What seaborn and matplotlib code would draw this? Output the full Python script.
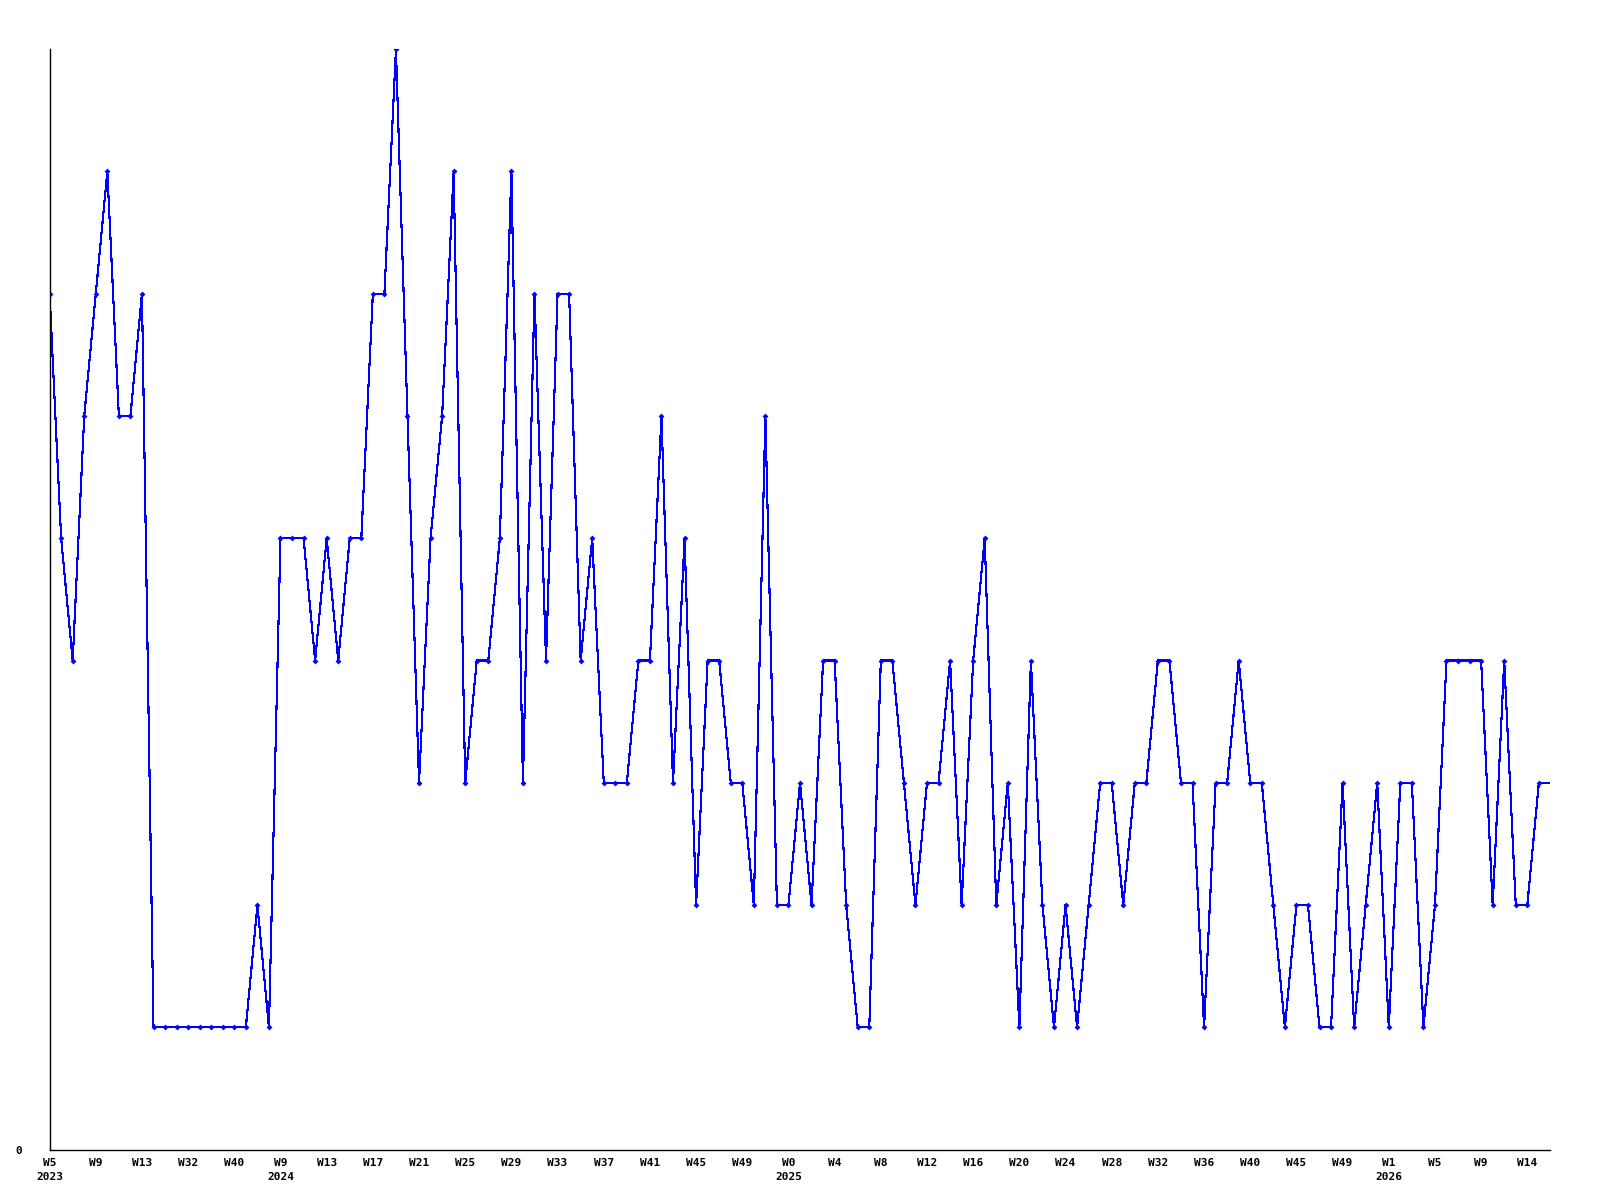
import numpy as np
import pandas as pd
import matplotlib
matplotlib.use("Agg")
import matplotlib.pyplot as plt
import seaborn as sns

# weekly values, one per point
values = [7, 5, 4, 6, 7, 8, 6, 6, 7, 1,
          1, 1, 1, 1, 1, 1, 1, 1, 2, 1,
          5, 5, 5, 4, 5, 4, 5, 5, 7, 7,
          9, 6, 3, 5, 6, 8, 3, 4, 4, 5,
          8, 3, 7, 4, 7, 7, 4, 5, 3, 3,
          3, 4, 4, 6, 3, 5, 2, 4, 4, 3,
          3, 2, 6, 2, 2, 3, 2, 4, 4, 2,
          1, 1, 4, 4, 3, 2, 3, 3, 4, 2,
          4, 5, 2, 3, 1, 4, 2, 1, 2, 1,
          2, 3, 3, 2, 3, 3, 4, 4, 3, 3,
          1, 3, 3, 4, 3, 3, 2, 1, 2, 2,
          1, 1, 3, 1, 2, 3, 1, 3, 3, 1,
          2, 4, 4, 4, 4, 2, 4, 2, 2, 3,
          3]

# tick labels, one every 4 points
week_labels = ["W5", "W9", "W13", "W32", "W40", "W9", "W13", "W17", "W21",
               "W25", "W29", "W33", "W37", "W41", "W45", "W49", "W0", "W4",
               "W8", "W12", "W16", "W20", "W24", "W28", "W32", "W36", "W40",
               "W45", "W49", "W1", "W5", "W9", "W14"]
year_labels = {0: "2023", 5: "2024", 16: "2025", 29: "2026"}

df = pd.DataFrame({"idx": np.arange(len(values)), "value": values})

sns.set_style("white")
fig = plt.figure(figsize=(16, 12), dpi=100)
ax = fig.add_axes([0.031, 0.042, 0.938, 0.917])

sns.lineplot(data=df, x="idx", y="value", ax=ax, color="#0000ff",
             linewidth=0.8, marker="D", markersize=3, markeredgewidth=0,
             markevery=list(range(len(values) - 1)), antialiased=False)

ax.set_xlim(0, len(values) - 1)
ax.set_ylim(0, 9)

ticks = list(range(0, len(values), 4))
labels = []
for i, w in enumerate(week_labels):
    if i in year_labels:
        labels.append(w + "\n" + year_labels[i])
    else:
        labels.append(w)
ax.set_xticks(ticks)
ax.set_xticklabels(labels, fontfamily="DejaVu Sans Mono", fontweight="bold",
                   fontsize=8, linespacing=1.5, color="black")
ax.set_yticks([0])
ax.set_yticklabels(["0"], fontfamily="DejaVu Sans Mono", fontweight="bold",
                   fontsize=8, color="black")
ax.tick_params(axis="both", length=0)
ax.tick_params(axis="x", pad=6)
ax.tick_params(axis="y", pad=20)

ax.set_xlabel("")
ax.set_ylabel("")
sns.despine(ax=ax)
for s in ["left", "bottom"]:
    ax.spines[s].set_color("black")
    ax.spines[s].set_linewidth(1.0)
ax.grid(False)

fig.savefig("out.png", dpi=100)
